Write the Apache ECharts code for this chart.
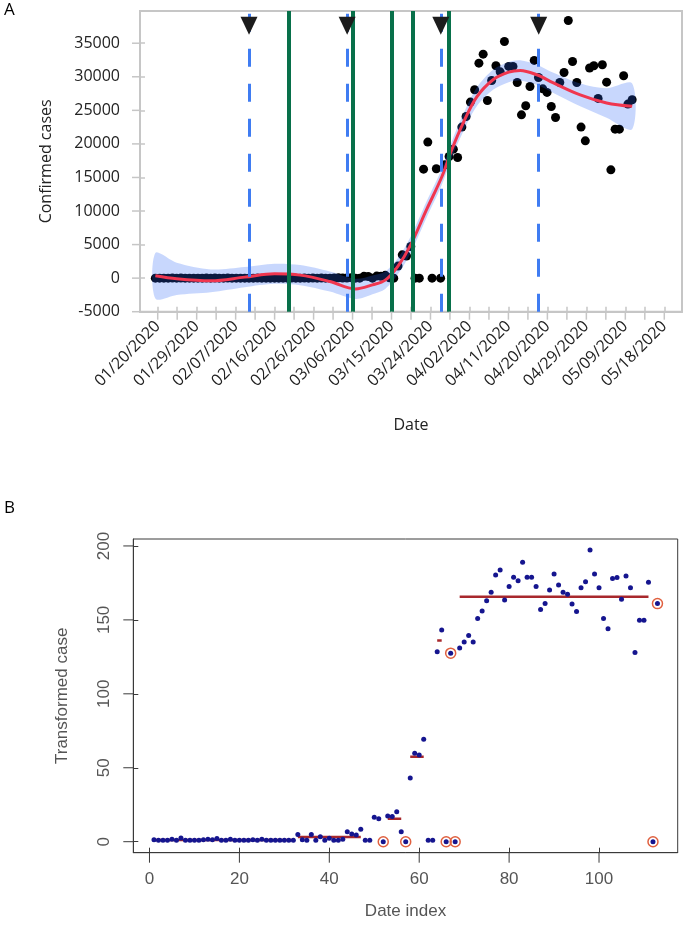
<!DOCTYPE html>
<html><head><meta charset="utf-8">
<script src="https://cdn.jsdelivr.net/npm/echarts@6/dist/echarts.min.js"></script>
<style>html,body{margin:0;padding:0;background:#fff}#c{width:685px;height:940px}</style>
</head><body><div id="c"></div>
<script>
// ---------- Panel A data ----------
const dateLabels = ['01/20/2020','01/29/2020','02/07/2020','02/16/2020','02/26/2020','03/06/2020','03/15/2020',
  '03/24/2020','04/02/2020','04/11/2020','04/20/2020','04/29/2020','05/09/2020','05/18/2020'];
// date index (1..113) of first and last date label
const firstLabelIndex = 1.55;
const lastLabelIndex = 120.55;
const confirmedCases = [
  2,1,1,1,3,1,6,1,1,1,1,2,3,2,5,1,1,3,1,1,1,1,2,1,3,1,1,1,1,1,1,1,
  23,2,1,23,1,12,1,5,1,1,3,46,27,20,71,1,1,272,243,
  0,303,289,412,46,0,1800,3470,3300,4715,1,1,16240,20270,0,16290,0,
  16890,18130,19220,17980,22500,24090,26230,28060,32030,33370,26470,29450,31640,30740,35260,31540,31540,
  29150,24330,25680,28560,32440,29900,28200,27670,25580,23940,29150,30640,38390,32280,29150,22500,20460,
  31300,31640,26780,31790,29200,16140,22200,22200,30150,25930,26580];
const smoothX = [1,6,14,22,29,35,42,48,52,55,58,61,64.7,68.3,70.6,73.3,76.5,80.4,84,86.7,90.6,94.5,100.8,107,113];
const smoothY = [350,-100,-400,150,650,450,-500,-1600,-1000,-300,1800,5000,10200,15100,19100,23100,27000,29600,30700,30950,30300,29100,27300,26100,25600];
const bandHalf = [3400,2400,1700,1500,1500,1500,1500,1500,1400,1300,1200,1200,1200,1200,1200,1300,1400,1500,1500,1500,1500,1500,1700,2200,3400];
const blueLines = [23.0, 46.05, 68.05, 91.05];
const greenLines = [32.35, 47.45, 56.45, 61.35, 69.9];
const triangleLevel = 37600;
const yTicksA = [-5000,0,5000,10000,15000,20000,25000,30000,35000];

// ---------- Panel B data ----------
const transformed = [
  1.4,1,1,1,1.7,1,2.5,1,1,1,1,1.4,1.7,1.4,2.2,1,1,1.7,1,1,1,1,1.4,1,1.7,1,1,1,1,1,1,1,
  4.8,1.4,1,4.8,1,3.4,1,2.3,1,1,1.6,6.8,5.2,4.5,8.4,1,1,16.5,15.6,
  0,17.4,17,20.3,6.8,0,43,59.8,58.6,69.2,1,1,128.5,143.2,0,127.5,0,
  131,135,139.4,135,151,156,163,168.7,180.4,183.8,163.5,172.5,178.8,176.5,189,178.8,178.8,172.5,157,161,
  170.2,181,173.6,168.7,167.3,160.8,155.6,171.8,175.8,197.3,181,171.8,151,144,178,178.6,164,179.7,171.8,
  128,149.7,149.7,175.4,0,161];
const ringIdx = [52,57,66,67,68,112,113];
const segments = [[1,32,1.1],[33,47,3.2],[53,56,15.6],[58,61,57.5],[64,65,136],[69,111,165.7]];
const xTicksB = [0,20,40,60,80,100];
const yTicksB = [0,50,100,150,200];

// ---------- build ----------
const nTickSteps = (dateLabels.length - 1) * 2;
const tickStep = (lastLabelIndex - firstLabelIndex) / nTickSteps;
const xTicksA = [], xLabelPosA = [];
for (let k = 0; k <= nTickSteps; k++) {
  const v = firstLabelIndex + k * tickStep;
  xTicksA.push(v);
  if (k % 2 === 0) xLabelPosA.push(v);
}
const ptsA = confirmedCases.map((v, i) => [i + 1, v]);
const ptsB = transformed.map((v, i) => [i + 1, v]);
const fontA = "'Open Sans', 'Noto Sans', sans-serif";
const fontB = "'Liberation Sans', Arial, sans-serif";
const greyA = '#c6c6c6', darkB = '#3a3a3a';
const ext = {xA: [-2.61, 124.71], yA: [-5000, 39800], xB: [-3.6, 117.5], yB: [-7.44, 204.7]};

const chart = echarts.init(document.getElementById('c'), null, {renderer: 'canvas'});
const vline = (x, color, width, type) => ({xAxis: x, lineStyle: {color, width, type}});

// outward tick marks on the plot edges, placed through the axes' own scales
function tickSeries(gi, values, dir, len, color, width) {
  const xr = gi === 0 ? ext.xA : ext.xB, yr = gi === 0 ? ext.yA : ext.yB;
  return {
    type: 'custom', coordinateSystem: 'cartesian2d', xAxisIndex: gi, yAxisIndex: gi, clip: false, silent: true, z: 6,
    data: values.map(v => dir === 'x' ? [v, yr[0]] : [xr[0], v]),
    renderItem: (params, api) => {
      const p = api.coord([api.value(0), api.value(1)]);
      const shape = dir === 'x'
        ? {x1: p[0], y1: p[1], x2: p[0], y2: p[1] + len}
        : {x1: p[0] - len, y1: p[1], x2: p[0], y2: p[1]};
      return {type: 'line', shape, style: {stroke: color, lineWidth: width, fill: null}};
    }
  };
}
const innerTick = (vals, len, color, width) => ({show: true, inside: true, customValues: vals, length: len, lineStyle: {color, width}});

const option = {
  animation: false,
  backgroundColor: '#fff',
  graphic: [
    {type: 'text', left: 4, top: 2, style: {text: 'A', font: "17px " + fontA, fill: '#000'}},
    {type: 'text', left: 4, top: 500, style: {text: 'B', font: "17px " + fontA, fill: '#000'}}
  ],
  grid: [
    {left: 140, top: 11, right: 3, bottom: 628.3, show: true, borderColor: greyA, borderWidth: 2, backgroundColor: 'transparent'},
    {left: 133.3, top: 539, right: 7.3, bottom: 87.3, show: true, borderColor: darkB, borderWidth: 1, backgroundColor: 'transparent'}
  ],
  xAxis: [
    {gridIndex: 0, type: 'value', min: ext.xA[0], max: ext.xA[1],
      name: 'Date', nameLocation: 'middle', nameGap: 106,
      nameTextStyle: {fontFamily: fontA, fontSize: 16, color: '#222'},
      axisLine: {show: true, onZero: false, lineStyle: {color: greyA, width: 2}}, splitLine: {show: false},
      axisTick: innerTick(xTicksA, 5, greyA, 1.5),
      axisLabel: {show: true, customValues: xLabelPosA, rotate: 45, margin: 12, fontFamily: fontA, fontSize: 16, color: '#222',
        formatter: v => dateLabels[Math.round((v - firstLabelIndex) / (2 * tickStep))]}
    },
    {gridIndex: 1, type: 'value', min: ext.xB[0], max: ext.xB[1],
      name: 'Date index', nameLocation: 'middle', nameGap: 50,
      nameTextStyle: {fontFamily: fontB, fontSize: 17, color: '#555'},
      axisLine: {show: true, onZero: false, lineStyle: {color: darkB, width: 1}}, splitLine: {show: false},
      axisTick: innerTick(xTicksB, 5, darkB, 1),
      axisLabel: {show: true, customValues: xTicksB, margin: 18, fontFamily: fontB, fontSize: 17, color: '#555'}
    }
  ],
  yAxis: [
    {gridIndex: 0, type: 'value', min: ext.yA[0], max: ext.yA[1],
      name: 'Confirmed cases', nameLocation: 'middle', nameGap: 86,
      nameTextStyle: {fontFamily: fontA, fontSize: 16, color: '#222'},
      axisLine: {show: true, onZero: false, lineStyle: {color: greyA, width: 2}}, splitLine: {show: false},
      axisTick: innerTick(yTicksA, 5, greyA, 1.5),
      axisLabel: {show: true, customValues: yTicksA, margin: 20, fontFamily: fontA, fontSize: 16, color: '#222',
        formatter: v => String(v)}
    },
    {gridIndex: 1, type: 'value', min: ext.yB[0], max: ext.yB[1],
      name: 'Transformed case', nameLocation: 'middle', nameGap: 62,
      nameTextStyle: {fontFamily: fontB, fontSize: 17, color: '#555'},
      axisLine: {show: true, onZero: false, lineStyle: {color: darkB, width: 1}}, splitLine: {show: false},
      axisTick: innerTick(yTicksB, 5, darkB, 1),
      axisLabel: {show: true, customValues: yTicksB, rotate: 90, margin: 20, fontFamily: fontB, fontSize: 17, color: '#555',
        formatter: v => String(v)}
    }
  ],
  series: [
    // reference lines
    {type: 'scatter', xAxisIndex: 0, yAxisIndex: 0, data: [], z: 1, silent: true,
      markLine: {silent: true, symbol: ['none', 'none'], label: {show: false}, animation: false,
        data: greenLines.map(x => vline(x, '#08704a', 4, 'solid')).concat(blueLines.map(x => vline(x, '#3f7cf2', 3, [18, 17])))}
    },
    {type: 'scatter', xAxisIndex: 0, yAxisIndex: 0, data: ptsA, symbolSize: 9, z: 2, silent: true,
      itemStyle: {color: '#000', opacity: 1}},
    {type: 'custom', xAxisIndex: 0, yAxisIndex: 0, data: [[0, 0]], z: 3, silent: true,
      renderItem: (params, api) => {
        const up = smoothX.map((x, k) => api.coord([x, smoothY[k] + bandHalf[k]]));
        const lo = smoothX.map((x, k) => api.coord([x, smoothY[k] - bandHalf[k]])).reverse();
        return {type: 'polygon', shape: {points: up.concat(lo), smooth: 0.3},
          style: {fill: 'rgba(42,100,246,0.26)'}};
      }
    },
    {type: 'line', xAxisIndex: 0, yAxisIndex: 0, data: smoothX.map((x, k) => [x, smoothY[k]]),
      smooth: 0.35, symbol: 'none', z: 4, silent: true, lineStyle: {color: '#f0364f', width: 3}},
    {type: 'scatter', xAxisIndex: 0, yAxisIndex: 0, data: blueLines.map(x => [x, triangleLevel]),
      symbol: 'triangle', symbolRotate: 180, symbolSize: [17, 18], z: 5, silent: true, itemStyle: {color: '#1c1c1c', opacity: 1}},
    tickSeries(0, xTicksA, 'x', 8, greyA, 1.5),
    tickSeries(0, yTicksA, 'y', 8, greyA, 1.5),
    // panel B
    ...segments.map(s => ({type: 'line', xAxisIndex: 1, yAxisIndex: 1, data: [[s[0], s[2]], [s[1], s[2]]],
      symbol: 'none', z: 2, silent: true, lineStyle: {color: '#a8282c', width: 2.5}})),
    {type: 'scatter', xAxisIndex: 1, yAxisIndex: 1, data: ptsB, symbolSize: 5, z: 3, silent: true,
      itemStyle: {color: '#15158f', opacity: 1}},
    {type: 'scatter', xAxisIndex: 1, yAxisIndex: 1, data: ringIdx.map(i => [i, transformed[i - 1]]),
      symbol: 'circle', symbolSize: 10, z: 4, silent: true,
      itemStyle: {color: 'rgba(0,0,0,0)', borderColor: '#e0603f', borderWidth: 1.5, opacity: 1}},
    tickSeries(1, xTicksB, 'x', 10, darkB, 1),
    tickSeries(1, yTicksB, 'y', 10, darkB, 1)
  ]
};
chart.setOption(option);
</script>
</body></html>
